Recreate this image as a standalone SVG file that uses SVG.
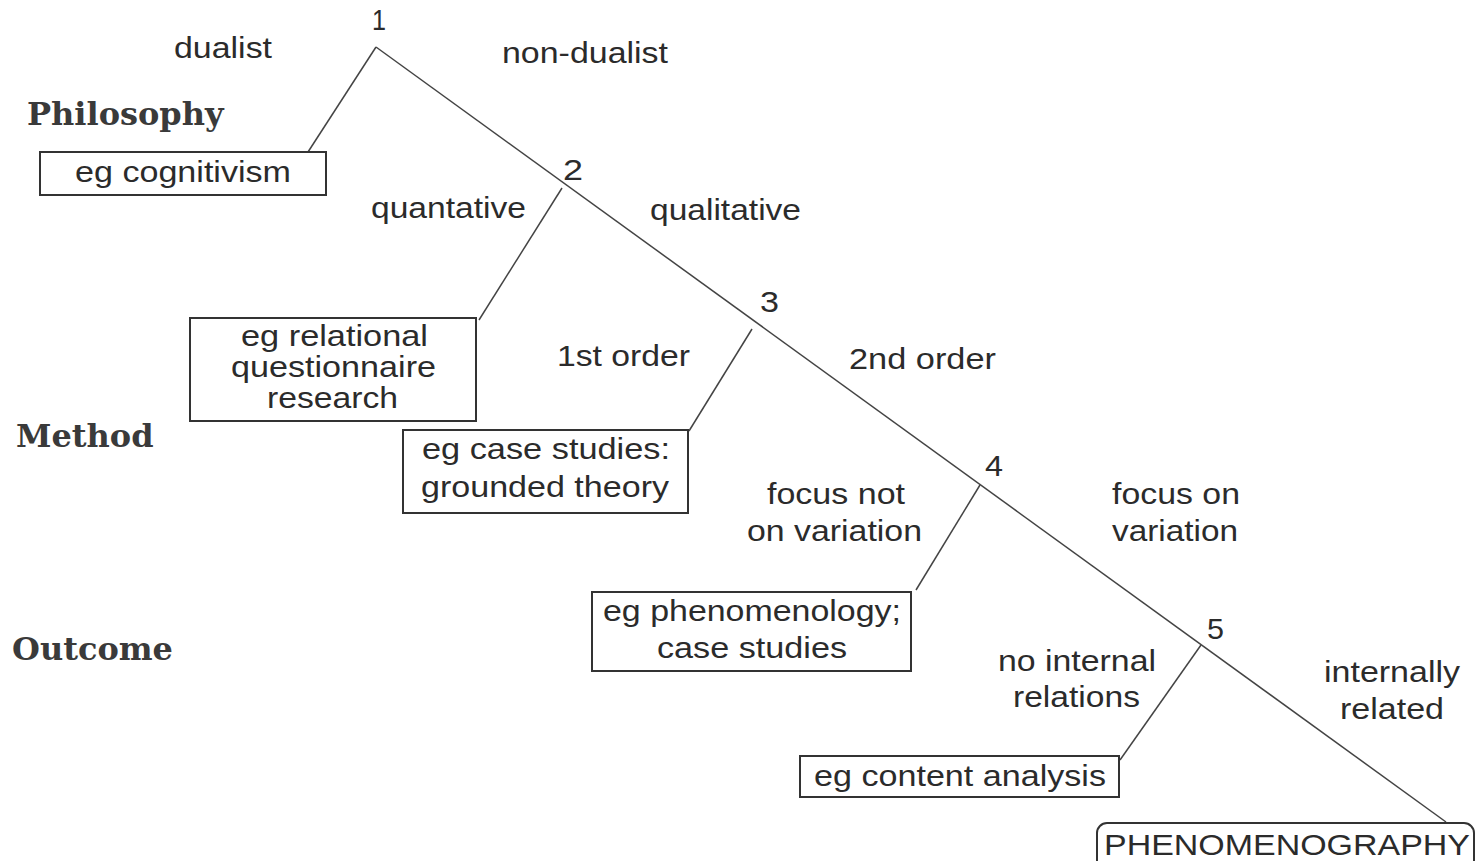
<svg xmlns="http://www.w3.org/2000/svg" width="1476" height="861" viewBox="0 0 1476 861">
<style>
.bg{fill:#ffffff}
.t{font-family:"Liberation Sans",Arial,sans-serif;font-size:29px;fill:#2b2b2b}
.s{font-family:"DejaVu Serif","Liberation Serif",serif;font-size:32px;font-weight:bold;fill:#3a3a3a}
.box{fill:none;stroke:#333;stroke-width:2}
.ln{fill:none;stroke:#444;stroke-width:1.5}
</style>
<rect class="bg" x="0" y="0" width="1476" height="861"/>
<g id="connectors">
<line class="ln" x1="376" y1="47" x2="1446" y2="822"/>
<line class="ln" x1="376" y1="47" x2="308" y2="152"/>
<line class="ln" x1="562" y1="188" x2="479" y2="320"/>
<line class="ln" x1="752" y1="329" x2="689" y2="431"/>
<line class="ln" x1="980" y1="485" x2="916" y2="590"/>
<line class="ln" x1="1201" y1="645" x2="1120" y2="760"/>
</g>
<g id="levels">
<text class="s" x="27" y="125">Philosophy</text>
<text class="s" x="16" y="447">Method</text>
<text class="s" x="12" y="660">Outcome</text>
</g>
<g id="n1"><text class="t" x="372" y="30" textLength="14" lengthAdjust="spacingAndGlyphs">1</text></g>
<g id="l-dualist"><text class="t" x="174" y="58" textLength="98" lengthAdjust="spacingAndGlyphs">dualist</text></g>
<g id="l-nondualist"><text class="t" x="502" y="63" textLength="166" lengthAdjust="spacingAndGlyphs">non-dualist</text></g>
<g id="b-cognitivism">
<rect class="box" x="40" y="152" width="286" height="43"/>
<text class="t" x="75" y="182" textLength="216" lengthAdjust="spacingAndGlyphs">eg cognitivism</text>
</g>
<g id="n2"><text class="t" x="563" y="180" textLength="20" lengthAdjust="spacingAndGlyphs">2</text></g>
<g id="l-quantative"><text class="t" x="371" y="218" textLength="155" lengthAdjust="spacingAndGlyphs">quantative</text></g>
<g id="l-qualitative"><text class="t" x="650" y="220" textLength="151" lengthAdjust="spacingAndGlyphs">qualitative</text></g>
<g id="n3"><text class="t" x="760" y="312" textLength="19" lengthAdjust="spacingAndGlyphs">3</text></g>
<g id="b-relational">
<rect class="box" x="190" y="318" width="286" height="103"/>
<text class="t" x="241" y="346" textLength="187" lengthAdjust="spacingAndGlyphs">eg relational</text>
<text class="t" x="231" y="377" textLength="205" lengthAdjust="spacingAndGlyphs">questionnaire</text>
<text class="t" x="267" y="408" textLength="131" lengthAdjust="spacingAndGlyphs">research</text>
</g>
<g id="l-1st"><text class="t" x="557" y="366" textLength="133" lengthAdjust="spacingAndGlyphs">1st order</text></g>
<g id="l-2nd"><text class="t" x="849" y="369" textLength="147" lengthAdjust="spacingAndGlyphs">2nd order</text></g>
<g id="b-case">
<rect class="box" x="403" y="430" width="285" height="83"/>
<text class="t" x="422" y="459" textLength="248" lengthAdjust="spacingAndGlyphs">eg case studies:</text>
<text class="t" x="421" y="497" textLength="248" lengthAdjust="spacingAndGlyphs">grounded theory</text>
</g>
<g id="n4"><text class="t" x="985" y="476" textLength="18" lengthAdjust="spacingAndGlyphs">4</text></g>
<g id="l-focusnot">
<text class="t" x="767" y="504" textLength="138" lengthAdjust="spacingAndGlyphs">focus not</text>
<text class="t" x="747" y="541" textLength="175" lengthAdjust="spacingAndGlyphs">on variation</text>
</g>
<g id="l-focuson">
<text class="t" x="1112" y="504" textLength="128" lengthAdjust="spacingAndGlyphs">focus on</text>
<text class="t" x="1112" y="541" textLength="126" lengthAdjust="spacingAndGlyphs">variation</text>
</g>
<g id="b-phenomenology">
<rect class="box" x="592" y="592" width="319" height="79"/>
<text class="t" x="603" y="621" textLength="298" lengthAdjust="spacingAndGlyphs">eg phenomenology;</text>
<text class="t" x="657" y="658" textLength="190" lengthAdjust="spacingAndGlyphs">case studies</text>
</g>
<g id="n5"><text class="t" x="1207" y="639" textLength="17" lengthAdjust="spacingAndGlyphs">5</text></g>
<g id="l-nointernal">
<text class="t" x="998" y="671" textLength="158" lengthAdjust="spacingAndGlyphs">no internal</text>
<text class="t" x="1013" y="707" textLength="127" lengthAdjust="spacingAndGlyphs">relations</text>
</g>
<g id="l-internally">
<text class="t" x="1324" y="682" textLength="136" lengthAdjust="spacingAndGlyphs">internally</text>
<text class="t" x="1340" y="719" textLength="104" lengthAdjust="spacingAndGlyphs">related</text>
</g>
<g id="b-content">
<rect class="box" x="800" y="756" width="319" height="41"/>
<text class="t" x="814" y="786" textLength="292" lengthAdjust="spacingAndGlyphs">eg content analysis</text>
</g>
<g id="b-phenomenography">
<rect class="box" x="1097" y="823" width="377" height="60" rx="10" ry="10"/>
<text class="t" x="1104" y="855" textLength="366" lengthAdjust="spacingAndGlyphs">PHENOMENOGRAPHY</text>
</g>
</svg>
